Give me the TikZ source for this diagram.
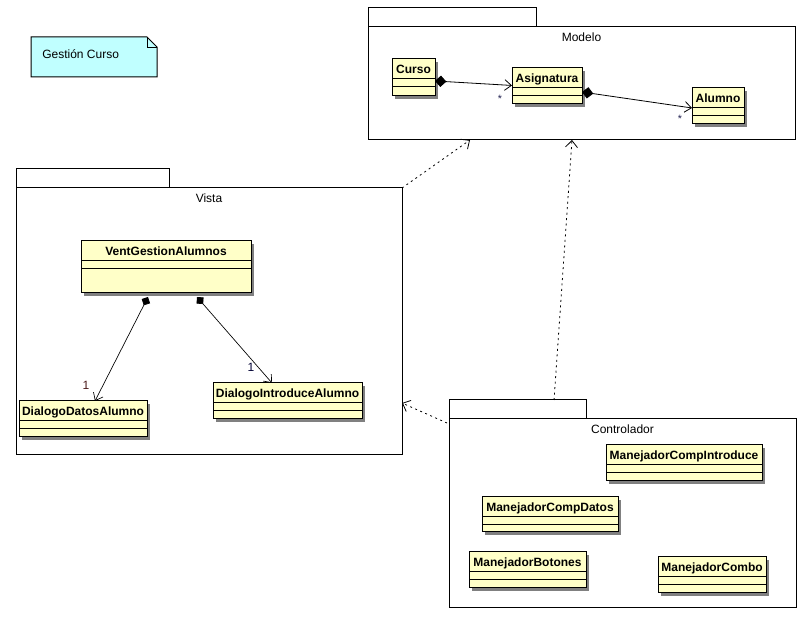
\documentclass[tikz,border=0pt]{standalone}
\usepackage{fontspec}
\setmainfont{Liberation Sans}
\usetikzlibrary{arrows.meta,shadows,calc}
\definecolor{clsfill}{HTML}{FFFFC8}
\definecolor{notefill}{HTML}{C0FFFF}
\definecolor{multred}{HTML}{4A1A1A}
\definecolor{multblue}{HTML}{202050}
\newcommand\umlclass[6]{%
  \node[cls, minimum width=#4*0.75pt, minimum height=#5*0.75pt, anchor=north west] (#1) at (#2,#3) {};
  \draw[line width=0.75pt] ([yshift=-15pt]#1.north west) -- ([yshift=-15pt]#1.north east);
  \draw[line width=0.75pt] ([yshift=-21pt]#1.north west) -- ([yshift=-21pt]#1.north east);
  \node[clsname, anchor=base] (#1-name) at ([yshift=-10.9pt]#1.north) {#6};
}
\newcommand\umlpackage[7]{% name, x, y, w, h, tabw, label
  \node[pkg, minimum width=#4*0.75pt, minimum height=#5*0.75pt, anchor=north west] (#1) at (#2,#3) {};
  \node[pkgtab, minimum width=#6*0.75pt, minimum height=14.25pt, anchor=south west] (#1-tab) at (#1.north west) {};
  \node[pkgname, anchor=base] (#1-label) at ([yshift=-11.25pt]#1.north) {#7};
}
\tikzset{
  cls/.style={draw, line width=0.75pt, fill=clsfill, rectangle, inner sep=0pt, outer sep=0pt,
    drop shadow={shadow xshift=2.6pt, shadow yshift=-2.6pt, fill=black!50, opacity=1}},
  clsname/.style={font=\bfseries\fontsize{9}{10}\selectfont, inner sep=0pt},
  pkg/.style={draw, line width=0.75pt, rectangle, inner sep=0pt, outer sep=0pt},
  pkgtab/.style={draw, line width=0.75pt, rectangle, inner sep=0pt, outer sep=0pt},
  pkgname/.style={font=\fontsize{9}{10}\selectfont, inner sep=0pt},
  compo/.style={line width=0.6pt, {Diamond[length=8.5pt,width=8.5pt]}-{Straight Barb[length=5pt,width=8pt]}},
  compos/.style={line width=0.5pt, {Diamond[length=7pt,width=7pt]}-{Straight Barb[length=5pt,width=8pt]}},
  dep/.style={line width=0.6pt, dash pattern=on 1.5pt off 2.6pt, -{Straight Barb[length=5pt,width=9pt]}},
  mult/.style={font=\fontsize{9}{10}\selectfont, inner sep=0pt},
  multstar/.style={font=\fontsize{8}{9}\selectfont, inner sep=0pt, text=multblue},
}
\begin{document}
\begin{tikzpicture}[x=0.75pt, y=-0.75pt]
\useasboundingbox (0,0) rectangle (808,620);
% note
\draw[line width=0.75pt, fill=notefill] (31,37) -- (147,37) -- (157,47) -- (157,77) -- (31,77) -- cycle;
\draw[line width=0.6pt] (147,37) -- (147,47) -- (157,47);
\node[pkgname, anchor=base west] (note) at (42,59) {Gestión Curso};

% packages
\umlpackage{modelo}{368}{27}{427}{113}{168}{Modelo}
\umlpackage{vista}{16}{188}{386}{267}{153}{Vista}
\umlpackage{ctrl}{449}{419}{347}{189}{137}{Controlador}

% Modelo classes
\umlclass{curso}{392}{59}{43}{37}{Curso}
\umlclass{asig}{512}{68}{70}{36}{Asignatura}
\umlclass{alumno}{692}{88}{52}{36}{Alumno}

% Vista classes
\umlclass{vent}{81}{241}{170}{52}{VentGestionAlumnos}
\umlclass{datos}{19}{401}{128}{36}{DialogoDatosAlumno}
\umlclass{intro}{213}{383}{149}{36}{DialogoIntroduceAlumno}

% Controlador classes
\umlclass{mci}{606}{445}{156}{36}{ManejadorCompIntroduce}
\umlclass{mcd}{482}{497}{136}{35}{ManejadorCompDatos}
\umlclass{mb}{469}{552}{117}{36}{ManejadorBotones}
\umlclass{mcombo}{658}{557}{108}{36}{ManejadorCombo}

% compositions in Modelo
\draw[compo] ([yshift=-2.6pt]curso.east) -- ([yshift=0.4pt]asig.west);
\node[multstar, anchor=base] (m1) at (500,103) {*};
\draw[compo] ([yshift=-4.5pt]asig.east) -- ([yshift=-1.5pt]alumno.west);
\node[multstar, anchor=base] (m2) at (680,123) {*};

% compositions in Vista
\draw[compos] ([xshift=50.25pt,yshift=-3pt]vent.south west) -- ([xshift=57pt]datos.north west);
\node[mult, text=multred, anchor=base] (m3) at (86,390) {1};
\draw[compos] ([xshift=87pt,yshift=-3pt]vent.south west) -- ([xshift=44.25pt]intro.north west);
\node[mult, text=black!80!blue, anchor=base] (m4) at (251,372) {1};

% dependencies
\draw[dep] (vista.north east) -- ([xshift=76.5pt]modelo.south west);
\draw[dep] ([xshift=27.4pt]ctrl-tab.north) -- ([xshift=153pt]modelo.south west);
\draw[dep] ([xshift=-1.5pt,yshift=-3pt]ctrl.north west) -- ([yshift=-161.25pt]vista.north east);
\end{tikzpicture}
\end{document}
